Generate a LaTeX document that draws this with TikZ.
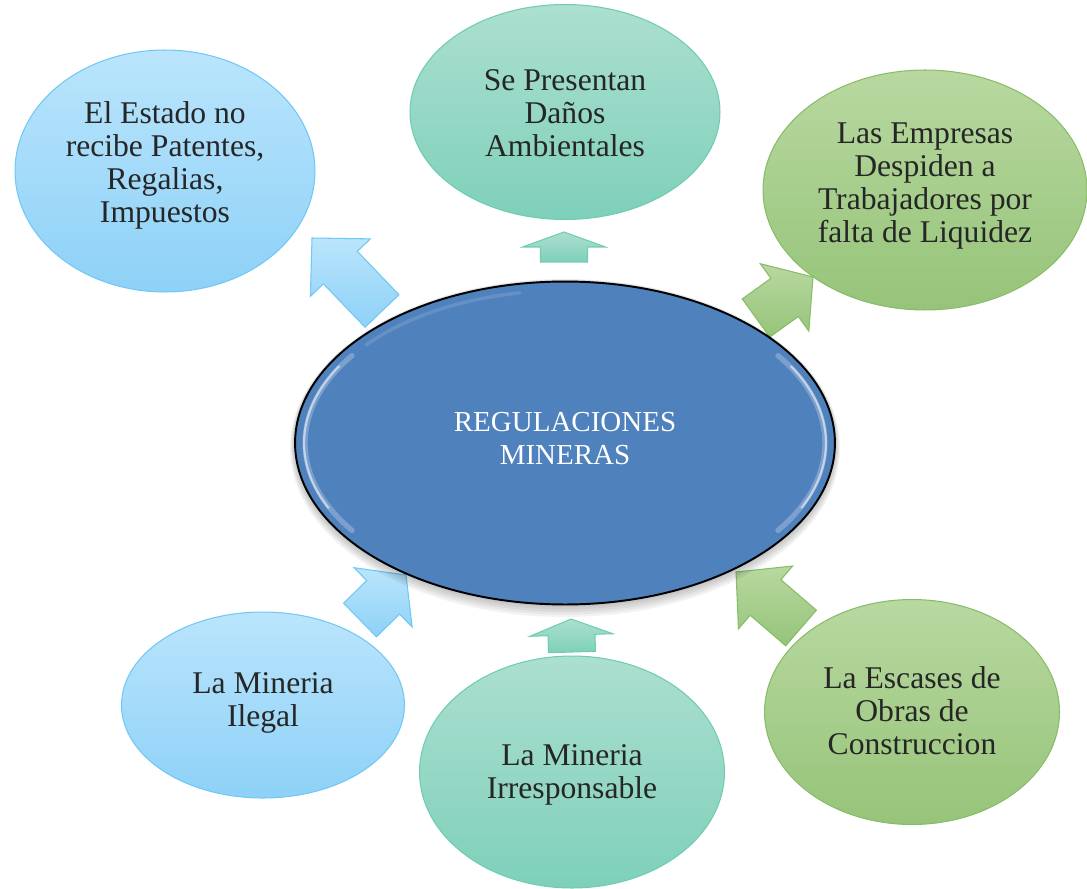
\documentclass[tikz,border=0pt]{standalone}
\usepackage{fontspec}
\setmainfont{Liberation Serif}
\usepackage{tikz}
\usetikzlibrary{shapes.geometric,calc,positioning}
\tikzset{>=latex}

\definecolor{azulA}{RGB}{186,229,252}
\definecolor{azulB}{RGB}{142,209,247}
\definecolor{azulL}{RGB}{112,200,244}
\definecolor{verdeA}{RGB}{172,223,208}
\definecolor{verdeB}{RGB}{126,208,186}
\definecolor{verdeL}{RGB}{112,204,176}
\definecolor{pastoA}{RGB}{184,216,160}
\definecolor{pastoB}{RGB}{150,196,121}
\definecolor{pastoL}{RGB}{136,188,104}
\definecolor{centroC}{RGB}{79,129,189}

\tikzset{
  burbuja/.style={ellipse, inner sep=0pt, align=center, text=black!85,
    font=\fontsize{18}{18.8}\selectfont},
  azul/.style={top color=azulA, bottom color=azulB, draw=azulL, line width=0.6pt},
  verde/.style={top color=verdeA, bottom color=verdeB, draw=verdeL, line width=0.6pt},
  pasto/.style={top color=pastoA, bottom color=pastoB, draw=pastoL, line width=0.6pt},
  centro/.style={ellipse, inner sep=0pt, align=center, draw=black, line width=1.1pt,
    fill=centroC, text=white, minimum width=10.8cm, minimum height=6.46cm,
    font=\fontsize{16.5}{18.8}\selectfont},
  brillo/.style={white, line cap=round}
}

% lines of a bubble, moved a little inside the shape
\newcommand{\subir}[2]{\raisebox{#1}[\height][\depth]{\begin{tabular}{@{}c@{}}#2\end{tabular}}}

% block arrow: style, base, tip, head length
\newcommand{\flecha}[4]{%
  \coordinate (hb) at ($(#3)!#4!(#2)$);
  \draw[#1] ($(#2)!0.47cm!90:(#3)$) -- ($(hb)!0.47cm!90:(#3)$) -- ($(hb)!0.83cm!90:(#3)$)
    -- (#3) -- ($(hb)!0.83cm!-90:(#3)$) -- ($(hb)!0.47cm!-90:(#3)$)
    -- ($(#2)!0.47cm!-90:(#3)$) -- cycle;
}

\begin{document}
\begin{tikzpicture}[x=0.02cm, y=-0.02cm]
  \useasboundingbox (0,0) rectangle (1087,888);

  % outer bubbles
  \node[burbuja, azul, minimum width=6cm, minimum height=4.84cm] (estado) at (165,171)
    {\subir{2.8pt}{El Estado no\\recibe Patentes,\\Regalias,\\Impuestos}};
  \node[burbuja, verde, minimum width=6.2cm, minimum height=4.3cm] (danos) at (565,112)
    {\subir{-2.8pt}{Se Presentan\\Daños\\Ambientales}};
  \node[burbuja, pasto, minimum width=6.48cm, minimum height=4.8cm] (empresas) at (925,190)
    {\subir{2.3pt}{Las Empresas\\Despiden a\\Trabajadores por\\falta de Liquidez}};
  \node[burbuja, azul, minimum width=5.66cm, minimum height=3.72cm] (ilegal) at (263,705)
    {\subir{0.7pt}{La Mineria\\Ilegal}};
  \node[burbuja, verde, minimum width=6.1cm, minimum height=4.64cm] (irresp) at (572,772)
    {\subir{-1.8pt}{La Mineria\\Irresponsable}};
  \node[burbuja, pasto, minimum width=5.9cm, minimum height=4.5cm] (escases) at (912,712)
    {\subir{-1.8pt}{La Escases de\\Obras de\\Construccion}};

  % arrow ends
  \coordinate (e1) at (382,311);  \coordinate (t1) at (312,238);
  \coordinate (e2) at (564,262);  \coordinate (t2) at (564,232);
  \coordinate (e3) at (756,318);  \coordinate (t3) at (813,277);
  \coordinate (e4) at (360,620);  \coordinate (t4) at (406,575);
  \coordinate (e5) at (572,652);  \coordinate (t5) at (571,619);
  \coordinate (e6) at (801,628);  \coordinate (t6) at (736,572);

  \flecha{azul}{e1}{t1}{0.82cm}
  \flecha{verde}{e2}{t2}{0.3cm}
  \flecha{pasto}{e3}{t3}{0.7cm}
  \flecha{azul}{e4}{t4}{0.64cm}
  \flecha{verde}{e5}{t5}{0.32cm}
  \flecha{pasto}{e6}{t6}{0.78cm}

  % centre
  \foreach \i in {1,...,5}
    \fill[black, opacity=0.05] (565,{443+\i}) ellipse [x radius={5.4cm+\i*0.02cm}, y radius={3.23cm+\i*0.03cm}];
  \node[centro] (reg) at (565,443) {\subir{0.7pt}{REGULACIONES\\MINERAS}};
  \draw[brillo, opacity=0.25, line width=3pt]
    ($(reg.center)+(145:5.2cm and 3.05cm)$) arc[start angle=145, end angle=215, x radius=5.2cm, y radius=3.05cm];
  \draw[brillo, opacity=0.55, line width=1.2pt]
    ($(reg.center)+(150:5.22cm and 3.07cm)$) arc[start angle=150, end angle=205, x radius=5.22cm, y radius=3.07cm];
  \draw[brillo, opacity=0.25, line width=3pt]
    ($(reg.center)+(-35:5.2cm and 3.05cm)$) arc[start angle=-35, end angle=35, x radius=5.2cm, y radius=3.05cm];
  \draw[brillo, opacity=0.55, line width=1.2pt]
    ($(reg.center)+(-25:5.22cm and 3.07cm)$) arc[start angle=-25, end angle=30, x radius=5.22cm, y radius=3.07cm];
  \draw[brillo, opacity=0.12, line width=2pt]
    ($(reg.center)+(100:5.2cm and 3.05cm)$) arc[start angle=100, end angle=140, x radius=5.2cm, y radius=3.05cm];
\end{tikzpicture}
\end{document}
